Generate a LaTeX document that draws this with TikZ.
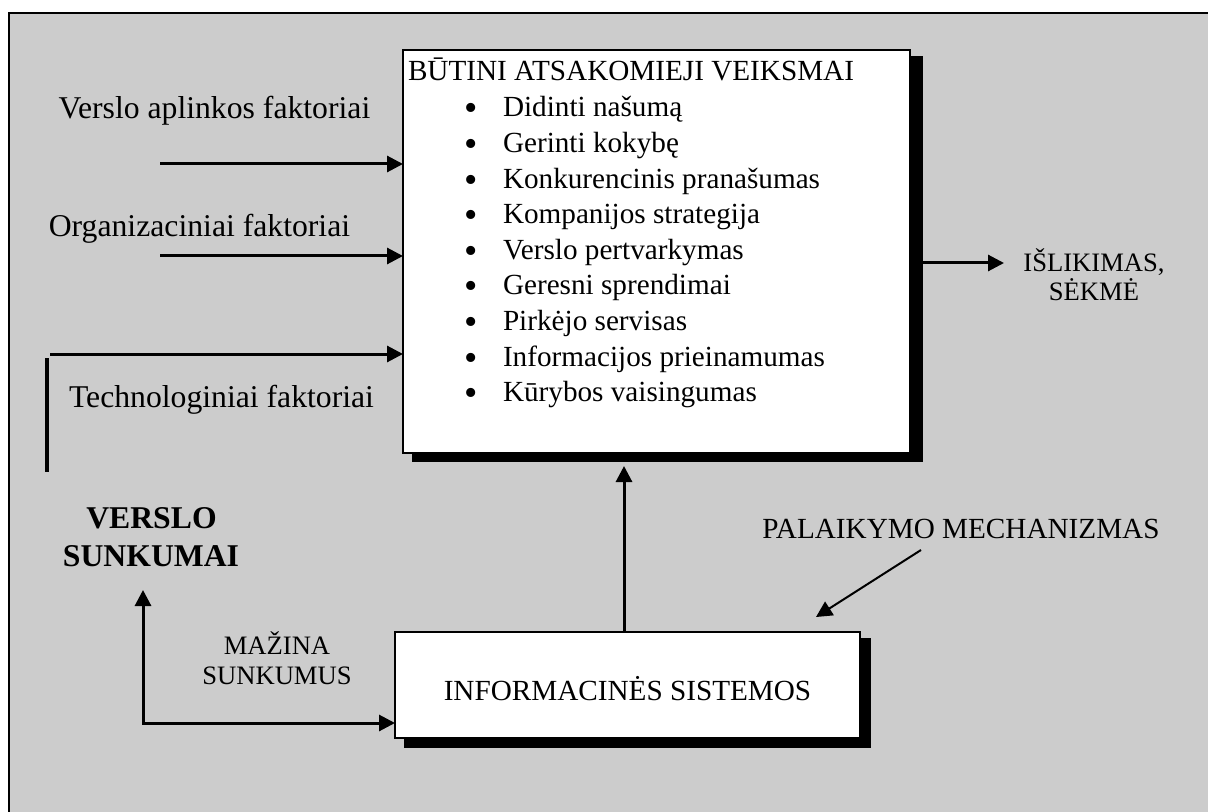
\documentclass[tikz,border=0pt]{standalone}
\usepackage{fontspec}
\setmainfont{Liberation Serif}
\usetikzlibrary{arrows.meta,calc}
\definecolor{panelgray}{RGB}{204,204,204}
\pgfdeclarelayer{back}
\pgfdeclarelayer{shade}
\pgfsetlayers{back,shade,main}
\begin{document}
\begin{tikzpicture}[x=0.5pt,y=-0.5pt,
  every node/.style={inner sep=0pt, outer sep=0pt},
  panel/.style={draw=black, line width=0.75pt, fill=white},
  tiphead/.style={-{Triangle[length=8pt,width=8pt]}},
  link/.style={tiphead, line width=1.5pt},
  big/.style={font=\fontsize{15.85pt}{19pt}\selectfont},
  bigbold/.style={font=\fontsize{15.85pt}{19pt}\selectfont\bfseries},
  mid/.style={font=\fontsize{14.6pt}{17.8pt}\selectfont},
  small/.style={font=\fontsize{13.3pt}{15pt}\selectfont},
  bullet/.style={font=\fontsize{19pt}{19pt}\selectfont}]
\useasboundingbox (0,0) rectangle (1208,812);

% page and grey panel with its frame
\begin{pgfonlayer}{back}
  \fill[white] (0,0) rectangle (1208,812);
  \fill[panelgray] (9,13) rectangle (1208,812);
  \draw[line width=1pt] (9,812) -- (9,13) -- (1208,13);
\end{pgfonlayer}

% main box of required responses
\node[panel, minimum width=253.5pt, minimum height=201.5pt] (act) at (656.5,251.5) {};
\begin{pgfonlayer}{shade}
  \fill ($(act.south west)+(9,9)$) rectangle ($(act.north east)+(13,6)$);
\end{pgfonlayer}
\node[mid, anchor=base west] (title) at (408,81) {BŪTINI ATSAKOMIEJI VEIKSMAI};
\foreach \t [count=\i from 0] in {Didinti našumą, Gerinti kokybę,
    Konkurencinis pranašumas, Kompanijos strategija, Verslo pertvarkymas,
    Geresni sprendimai, Pirkėjo servisas, Informacijos prieinamumas,
    Kūrybos vaisingumas} {
  \node[bullet, anchor=base] (dot\i) at (471,{121+35.6*\i}) {\smash{•}};
  \node[mid, anchor=base west] (item\i) at (503,{117+35.6*\i}) {\t};
}

% information systems box
\node[panel, minimum width=232.5pt, minimum height=53pt] (info) at (627.5,685) {};
\begin{pgfonlayer}{shade}
  \fill ($(info.south west)+(9,10)$) rectangle ($(info.north east)+(11,6)$);
\end{pgfonlayer}
\node[mid, anchor=base] (infotext) at (627.5,700) {INFORMACINĖS SISTEMOS};

% factor labels and their inputs
\node[big, anchor=base] (env) at (214.5,119) {Verslo aplinkos faktoriai};
\node[big, anchor=base] (org) at (199.5,237) {Organizaciniai faktoriai};
\node[big, anchor=base] (tech) at (221.5,407) {Technologiniai faktoriai};
\coordinate (e1) at (160,164);
\coordinate (e2) at (160,256);
\coordinate (e3) at (50,354);
\draw[link] (e1) -- (e1 -| act.west);
\draw[link] (e2) -- (e2 -| act.west);
\draw[link] (e3) -- (e3 -| act.west);
\coordinate (t1) at (47,358);
\coordinate (t2) at (47,472);
\draw[line width=2pt] (t1) -- (t2);

% outcome
\coordinate (outy) at (0,263);
\coordinate (outa) at ($(act.east |- outy)+(13,0)$);
\coordinate (outb) at (1004,263);
\draw[link] (outa) -- (outb);
\node[small, anchor=base] (res1) at (1094,271) {IŠLIKIMAS,};
\node[small, anchor=base] (res2) at (1094,300) {SĖKMĖ};

% support from information systems
\coordinate (up) at ($(info.north)+(-3.5,0)$);
\coordinate (uptop) at ($(act.south)+(0,13)$);
\draw[link] (up) -- (up |- uptop);

\node[mid, anchor=base] (sup) at (961,538) {PALAIKYMO MECHANIZMAS};
\coordinate (pa) at (921,550);
\coordinate (pb) at (816,617);
\draw[tiphead, line width=1pt] (pa) -- (pb);

% business difficulties loop
\node[bigbold, anchor=base] (vs1) at (151.5,528) {VERSLO};
\node[bigbold, anchor=base] (vs2) at (151,566) {SUNKUMAI};
\node[small, anchor=base] (mz1) at (277,654) {MAŽINA};
\node[small, anchor=base] (mz2) at (277,684) {SUNKUMUS};
\coordinate (vtip) at (143,590);
\coordinate (vcorner) at (143,723);
\draw[{Triangle[length=8pt,width=8pt]}-{Triangle[length=8pt,width=8pt]}, line width=1.5pt]
  (vtip) -- (vcorner) -- (vcorner -| info.west);
\end{tikzpicture}
\end{document}
